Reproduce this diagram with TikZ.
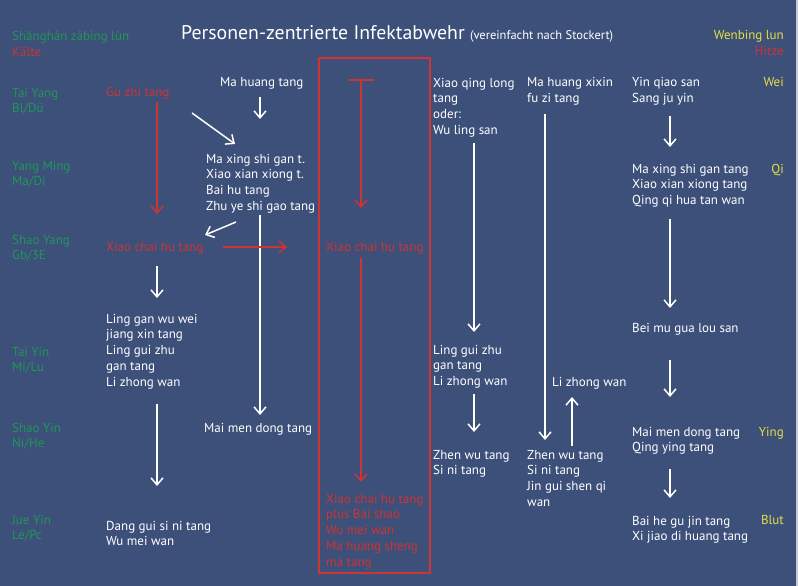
\documentclass[tikz,border=0pt]{standalone}
\usepackage{fontspec}
\setmainfont{PT Sans}
\usetikzlibrary{arrows.meta}
\definecolor{bgc}{RGB}{61,80,122}
\definecolor{grn}{RGB}{32,150,88}
\definecolor{rd}{RGB}{205,52,52}
\definecolor{ylw}{RGB}{228,222,70}
\begin{document}
\begin{tikzpicture}[x=1pt,y=-1pt,
  txt/.style={anchor=base west, inner sep=0pt, align=left, font=\fontsize{13}{15.8}\selectfont, text=white},
  gtxt/.style={txt, text=grn},
  rtxt/.style={txt, text=rd},
  ytxt/.style={txt, anchor=base east, align=right, text=ylw},
  warr/.style={draw=white, line width=1.5pt, -{Straight Barb[length=7pt,width=12pt,line width=1.5pt]}},
  rarr/.style={draw=rd, line width=1.5pt, -{Straight Barb[length=7pt,width=12pt,line width=1.5pt]}},
  rline/.style={draw=rd, line width=1.5pt}
]
\fill[bgc] (0,0) rectangle (798,586);
\fill[white!70!bgc] (795.5,0) rectangle (798,586);
\useasboundingbox (0,0) rectangle (798,586);

% title (anchor = baseline of the last line for multi-line nodes)
\node[txt, font=\fontsize{19.8}{24}\selectfont] (title) at (181,40) {Personen-zentrierte Infektabwehr \fontsize{12.5}{14}\selectfont(vereinfacht nach Stockert)};

% left labels
\node[gtxt] (sh) at (12,41) {Shānghán zábìng lùn};
\node[rtxt] (kalte) at (12,57) {Kälte};
\node[gtxt] (taiyang) at (12,112.8) {Tai Yang\\Bl/Dü};
\node[gtxt] (yangming) at (12,185.8) {Yang Ming\\Ma/Di};
\node[gtxt] (shaoyang) at (12,259.8) {Shao Yang\\Gb/3E};
\node[gtxt] (taiyin) at (12,371.8) {Tai Yin\\Mi/Lu};
\node[gtxt] (shaoyin) at (12,447.8) {Shao Yin\\Ni/He};
\node[gtxt] (jueyin) at (12,539.8) {Jue Yin\\Le/Pc};

% right labels
\node[ytxt] (wenbing) at (784,40) {Wenbing lun};
\node[ytxt, text=rd] (hitze) at (784,56) {Hitze};
\node[ytxt] (wei) at (784,87) {Wei};
\node[ytxt] (qi) at (784,173) {Qi};
\node[ytxt] (ying) at (784,436) {Ying};
\node[ytxt] (blut) at (784,524) {Blut};

% column 2
\node[rtxt] (guzhi) at (106,96) {Gu zhi tang};
\node[rtxt] (xch1) at (106,251) {Xiao chai hu tang};
\node[txt] (linggan) at (106,386.2) {Ling gan wu wei\\jiang xin tang\\Ling gui zhu\\gan tang\\Li zhong wan};
\node[txt] (danggui) at (106,545.8) {Dang gui si ni tang\\Wu mei wan};

% column 3
\node[txt] (mahuang) at (220,87) {Ma huang tang};
\node[txt] (maxing1) at (206,210.4) {Ma xing shi gan t.\\Xiao xian xiong t.\\Bai hu tang\\Zhu ye shi gao tang};
\node[txt] (maimen1) at (204,432) {Mai men dong tang};

% red box
\draw[draw=rd, line width=2pt] (319,58) rectangle (430,573);
\node[rtxt] (xch2) at (326,251) {Xiao chai hu tang};
\node[rtxt] (xchb) at (326,566.2) {Xiao chai hu tang\\plus Bai shao\\Wu mei wan\\Ma huang sheng\\ma tang};

% column 4
\node[txt] (xiaoqing) at (433,134.4) {Xiao qing long\\tang\\oder:\\Wu ling san};
\node[txt] (linggui2) at (433,385.6) {Ling gui zhu\\gan tang\\Li zhong wan};
\node[txt] (zhenwu1) at (433,474.8) {Zhen wu tang\\Si ni tang};

% column 5
\node[txt] (mhxx) at (527,102.8) {Ma huang xixin\\fu zi tang};
\node[txt] (lizhong2) at (552,386) {Li zhong wan};
\node[txt] (zhenwu2) at (527,506.4) {Zhen wu tang\\Si ni tang\\Jin gui shen qi\\wan};

% column 6
\node[txt] (yinqiao) at (632,102.8) {Yin qiao san\\Sang ju yin};
\node[txt] (maxing2) at (632,204.6) {Ma xing shi gan tang\\Xiao xian xiong tang\\Qing qi hua tan wan};
\node[txt] (beimu) at (632,332) {Bei mu gua lou san};
\node[txt] (maimen2) at (632,451.8) {Mai men dong tang\\Qing ying tang};
\node[txt] (baihe) at (632,540.8) {Bai he gu jin tang\\Xi jiao di huang tang};

% arrow end points
\coordinate (a1s) at (260,97);   \coordinate (a1e) at (260,119);
\coordinate (a2s) at (192,113);  \coordinate (a2e) at (235,144);
\coordinate (a3s) at (236,222);  \coordinate (a3e) at (205,235);
\coordinate (a4s) at (260,215);  \coordinate (a4e) at (260,415);
\coordinate (a5s) at (157,266);  \coordinate (a5e) at (157,298);
\coordinate (a6s) at (157,404);  \coordinate (a6e) at (157,486);
\coordinate (a7s) at (474,143);  \coordinate (a7e) at (474,332);
\coordinate (a8s) at (474,394);  \coordinate (a8e) at (474,432);
\coordinate (a9s) at (545,114);  \coordinate (a9e) at (545,440);
\coordinate (a10s) at (572,446); \coordinate (a10e) at (572,397);
\coordinate (a11s) at (670,116); \coordinate (a11e) at (670,147);
\coordinate (a12s) at (670,219); \coordinate (a12e) at (670,308);
\coordinate (a13s) at (670,360); \coordinate (a13e) at (670,397);
\coordinate (a14s) at (670,469); \coordinate (a14e) at (670,498);
\coordinate (r1s) at (157,102);  \coordinate (r1e) at (157,214);
\coordinate (r2s) at (223,247);  \coordinate (r2e) at (287,247);
\coordinate (tl) at (348,80);    \coordinate (tr) at (374,80);
\coordinate (r3s) at (361,80);   \coordinate (r3e) at (361,208);
\coordinate (r4s) at (361,258);  \coordinate (r4e) at (361,482);

\foreach \i in {1,...,14} \draw[warr] (a\i s) -- (a\i e);
\draw[rarr] (r1s) -- (r1e);
\draw[rarr] (r2s) -- (r2e);
\draw[rline] (tl) -- (tr);
\draw[rarr] (r3s) -- (r3e);
\draw[rarr] (r4s) -- (r4e);
\end{tikzpicture}
\end{document}
